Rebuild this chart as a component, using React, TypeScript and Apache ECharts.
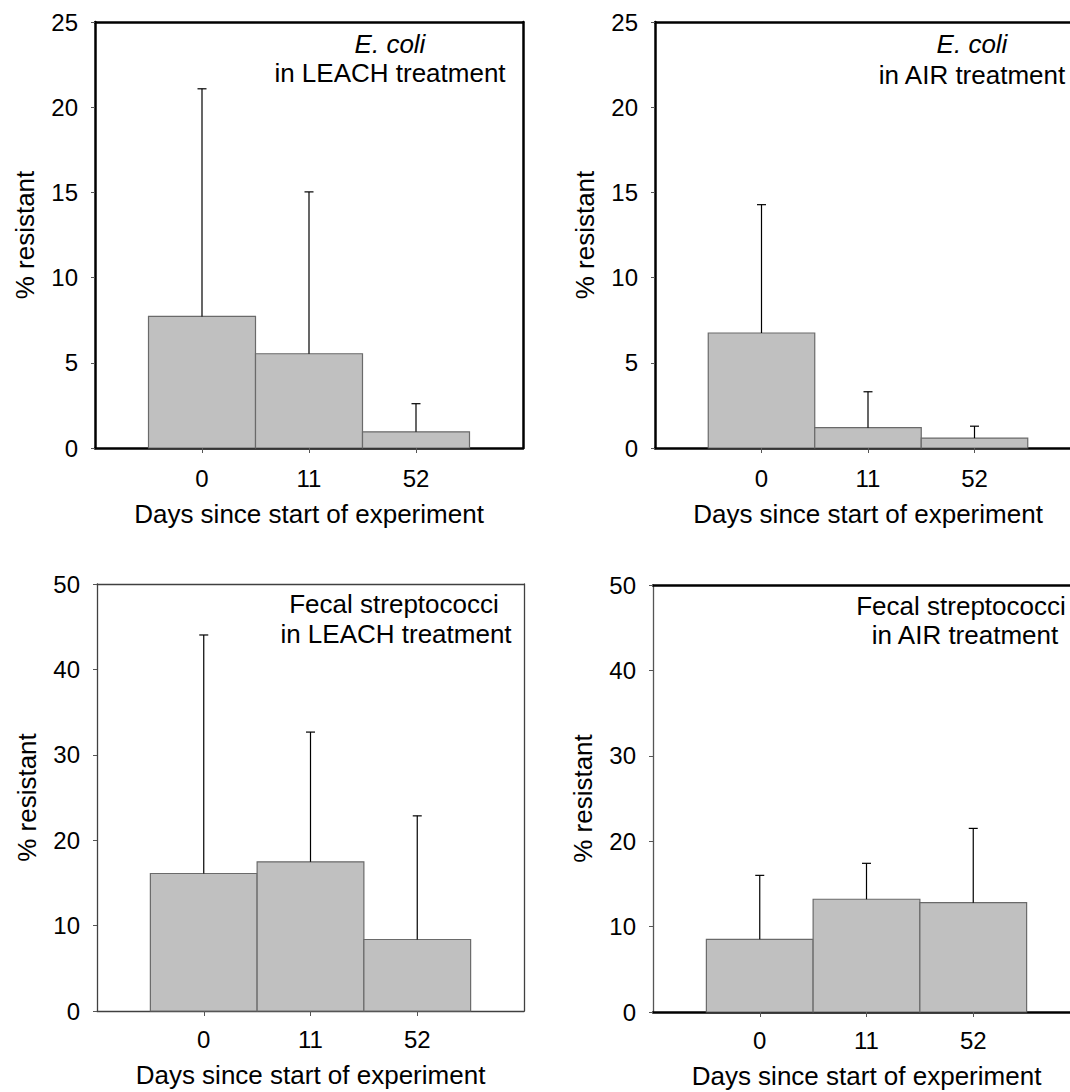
import React, { useEffect, useRef } from "react";
import * as echarts from "echarts";

// ---- Data ----
const days = ["0", "11", "52"];

// E. coli, LEACH treatment (% resistant)
const ecoliLeachMean = [7.72, 5.53, 0.95];
const ecoliLeachUpper = [21.08, 15.03, 2.6];

// E. coli, AIR treatment
const ecoliAirMean = [6.75, 1.19, 0.58];
const ecoliAirUpper = [14.28, 3.3, 1.28];

// Fecal streptococci, LEACH treatment
const fsLeachMean = [16.1, 17.47, 8.37];
const fsLeachUpper = [44.03, 32.66, 22.85];

// Fecal streptococci, AIR treatment
const fsAirMean = [8.51, 13.2, 12.8];
const fsAirUpper = [16.0, 17.41, 21.5];

const yTicksTop = { max: 25, interval: 5 };
const yTicksBottom = { max: 50, interval: 10 };

const FONT = "'Liberation Sans', Arial, Helvetica, sans-serif";

type Border = { color: string; width: number };
type Panel = {
  grid: { left: number; top: number; width: number; height: number };
  mean: number[];
  upper: number[];
  yMax: number;
  yInterval: number;
  borders: { left: Border; top: Border; right: Border; bottom: Border };
  line1: string;
  line1Italic: boolean;
  line2: string;
  textX1: number;
  textX2: number;
  textY1: number;
  textY2: number;
  labelMargin: number;
  nameGap: number;
};

const thick: Border = { color: "#000000", width: 2.5 };
const thinDark: Border = { color: "#404040", width: 1.3 };
const thinGray: Border = { color: "#555555", width: 1.3 };

const panels: Panel[] = [
  {
    grid: { left: 95, top: 22, width: 428, height: 426 },
    mean: ecoliLeachMean,
    upper: ecoliLeachUpper,
    yMax: yTicksTop.max,
    yInterval: yTicksTop.interval,
    borders: { left: thick, top: thick, right: thick, bottom: thick },
    line1: "E. coli",
    line1Italic: true,
    line2: "in LEACH treatment",
    textX1: 390,
    textX2: 390,
    textY1: 44,
    textY2: 73,
    labelMargin: 18,
    nameGap: 53,
  },
  {
    grid: { left: 655, top: 22, width: 426, height: 426 },
    mean: ecoliAirMean,
    upper: ecoliAirUpper,
    yMax: yTicksTop.max,
    yInterval: yTicksTop.interval,
    borders: { left: thick, top: thick, right: thick, bottom: thick },
    line1: "E. coli",
    line1Italic: true,
    line2: "in AIR treatment",
    textX1: 972,
    textX2: 972,
    textY1: 44,
    textY2: 75,
    labelMargin: 18,
    nameGap: 53,
  },
  {
    grid: { left: 97, top: 584, width: 427, height: 427 },
    mean: fsLeachMean,
    upper: fsLeachUpper,
    yMax: yTicksBottom.max,
    yInterval: yTicksBottom.interval,
    borders: { left: thinDark, top: thinDark, right: thinDark, bottom: thinDark },
    line1: "Fecal streptococci",
    line1Italic: false,
    line2: "in LEACH treatment",
    textX1: 394,
    textX2: 396,
    textY1: 604,
    textY2: 634,
    labelMargin: 16,
    nameGap: 51,
  },
  {
    grid: { left: 653, top: 585, width: 427, height: 427 },
    mean: fsAirMean,
    upper: fsAirUpper,
    yMax: yTicksBottom.max,
    yInterval: yTicksBottom.interval,
    borders: { left: thinGray, top: thick, right: thick, bottom: thick },
    line1: "Fecal streptococci",
    line1Italic: false,
    line2: "in AIR treatment",
    textX1: 961,
    textX2: 965,
    textY1: 606,
    textY2: 635,
    labelMargin: 16,
    nameGap: 51,
  },
];

function buildOption() {
  const grid: any[] = [];
  const xAxis: any[] = [];
  const yAxis: any[] = [];
  const series: any[] = [];
  const graphic: any[] = [];

  panels.forEach((p, i) => {
    grid.push({ ...p.grid, containLabel: false, outerBoundsMode: "none" });

    // bottom x axis (categories placed at 1,2,3 on a 0..4 scale)
    xAxis.push({
      type: "value",
      gridIndex: i,
      min: 0,
      max: 4,
      interval: 1,
      position: "bottom",
      name: "Days since start of experiment",
      nameLocation: "middle",
      nameGap: p.nameGap,
      nameTextStyle: { fontFamily: FONT, fontSize: 26, color: "#000" },
      axisLine: { show: true, onZero: false, lineStyle: { color: p.borders.bottom.color, width: p.borders.bottom.width } },
      axisTick: { show: true, inside: false, length: 5, customValues: [1, 2, 3], lineStyle: { color: "#555", width: 1 } },
      axisLabel: {
        show: true,
        customValues: [1, 2, 3],
        margin: p.labelMargin,
        fontFamily: FONT,
        fontSize: 24,
        color: "#000",
        formatter: (v: number) => days[Math.round(v) - 1] ?? "",
      },
      splitLine: { show: false },
    });
    // top border
    xAxis.push({
      type: "value",
      gridIndex: i,
      min: 0,
      max: 4,
      position: "top",
      axisLine: { show: true, onZero: false, lineStyle: { color: p.borders.top.color, width: p.borders.top.width } },
      axisTick: { show: false },
      axisLabel: { show: false },
      splitLine: { show: false },
    });
    // left y axis
    yAxis.push({
      type: "value",
      gridIndex: i,
      min: 0,
      max: p.yMax,
      interval: p.yInterval,
      position: "left",
      name: "% resistant",
      nameLocation: "middle",
      nameGap: 57,
      nameTextStyle: { fontFamily: FONT, fontSize: 26, color: "#000" },
      axisLine: { show: true, onZero: false, lineStyle: { color: p.borders.left.color, width: p.borders.left.width } },
      axisTick: { show: true, inside: false, length: 4, lineStyle: { color: "#555", width: 1 } },
      axisLabel: { show: true, margin: 17, fontFamily: FONT, fontSize: 24, color: "#000" },
      splitLine: { show: false },
    });
    // right border
    yAxis.push({
      type: "value",
      gridIndex: i,
      min: 0,
      max: p.yMax,
      position: "right",
      axisLine: { show: true, onZero: false, lineStyle: { color: p.borders.right.color, width: p.borders.right.width } },
      axisTick: { show: false },
      axisLabel: { show: false },
      splitLine: { show: false },
    });

    const barData = p.mean.map((m, k) => [k + 1, m]);
    const errData = p.mean.map((m, k) => [k + 1, m, p.upper[k]]);

    series.push({
      type: "custom",
      xAxisIndex: i * 2,
      yAxisIndex: i * 2,
      data: barData,
      z: 2,
      renderItem: (_params: any, api: any) => {
        const x = api.value(0);
        const y = api.value(1);
        const p1 = api.coord([x - 0.5, y]);
        const p0 = api.coord([x + 0.5, 0]);
        return {
          type: "rect",
          shape: { x: p1[0], y: p1[1], width: p0[0] - p1[0], height: p0[1] - p1[1] },
          style: { fill: "#c0c0c0", stroke: "#6a6a6a", lineWidth: 1.2 },
        };
      },
    });
    series.push({
      type: "custom",
      xAxisIndex: i * 2,
      yAxisIndex: i * 2,
      data: errData,
      z: 3,
      renderItem: (_params: any, api: any) => {
        const x = api.value(0);
        const y = api.value(1);
        const e = api.value(2);
        const base = api.coord([x, y]);
        const top = api.coord([x, e]);
        return {
          type: "group",
          children: [
            { type: "line", shape: { x1: base[0], y1: base[1], x2: top[0], y2: top[1] }, style: { stroke: "#000", lineWidth: 1.2 } },
            { type: "line", shape: { x1: top[0] - 4.5, y1: top[1], x2: top[0] + 4.5, y2: top[1] }, style: { stroke: "#000", lineWidth: 1.2 } },
          ],
        };
      },
    });

    graphic.push({
      type: "text",
      x: p.textX1,
      y: p.textY1,
      style: {
        text: p.line1,
        fontFamily: FONT,
        fontSize: 26,
        fontStyle: p.line1Italic ? "italic" : "normal",
        fill: "#000",
        textAlign: "center",
        textVerticalAlign: "middle",
      },
      z: 10,
    });
    graphic.push({
      type: "text",
      x: p.textX2,
      y: p.textY2,
      style: {
        text: p.line2,
        fontFamily: FONT,
        fontSize: 26,
        fill: "#000",
        textAlign: "center",
        textVerticalAlign: "middle",
      },
      z: 10,
    });
  });

  return {
    animation: false,
    backgroundColor: "#ffffff",
    grid,
    xAxis,
    yAxis,
    series,
    graphic,
  };
}

export default function App() {
  const ref = useRef<HTMLDivElement>(null);
  useEffect(() => {
    if (!ref.current) return;
    const chart = echarts.init(ref.current, undefined, { renderer: "svg" });
    chart.setOption(buildOption() as any);
    return () => chart.dispose();
  }, []);
  return (
    <div style={{ position: "fixed", left: 0, top: 0, width: 1070, height: 1092, overflow: "hidden", background: "#fff" }}>
      <div ref={ref} style={{ width: 1100, height: 1092 }} />
    </div>
  );
}
